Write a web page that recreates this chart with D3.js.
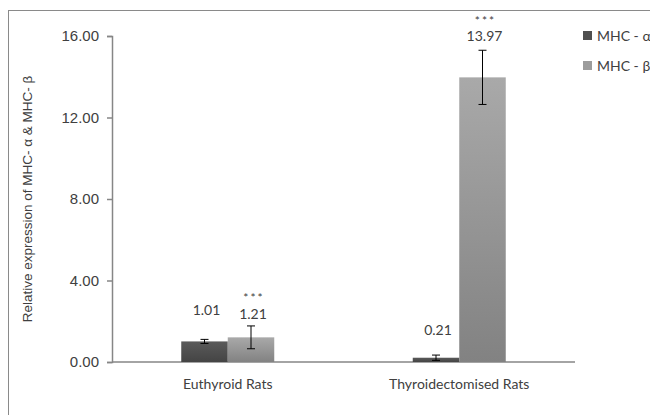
<!DOCTYPE html>
<html>
<head>
<meta charset="utf-8">
<script src="https://cdn.jsdelivr.net/npm/d3@7"></script>
<style>
  body { margin: 0; background: #fff; }
  svg { display: block; }
  .tick text { font-family: "Liberation Sans", Arial, sans-serif; font-size: 15px; fill: #404040; }
</style>
</head>
<body>
<div id="chart"></div>
<script>
// data
const groups = ["Euthyroid Rats", "Thyroidectomised Rats"];
const series = ["MHC - \u03b1", "MHC - \u03b2"];
const alphaValues = [1.01, 0.21];
const betaValues = [1.21, 13.97];
const alphaErrors = [0.10, 0.13];
const betaErrors = [0.56, 1.33];
const alphaStars = ["", ""];
const betaStars = ["***", "***"];
const yTicks = [0, 4, 8, 12, 16];

// how far (px) each value label sits above its bar / error bar, and the stars above the label
const alphaLabelGap = [26, 23];
const betaLabelGap = [7, 9];
const starGap = 16.5;

const W = 650, H = 415;
const margin = {top: 36, right: 75, bottom: 53, left: 112};
const width = W - margin.left - margin.right;
const height = H - margin.top - margin.bottom;
const font = "Lato, 'Open Sans', sans-serif";

const svg = d3.select("#chart").append("svg")
    .attr("width", W)
    .attr("height", H);

// gradients like the office chart fills
const defs = svg.append("defs");
function grad(id, top, bottom) {
    const g = defs.append("linearGradient")
        .attr("id", id)
        .attr("x1", 0).attr("y1", 0).attr("x2", 0).attr("y2", 1);
    g.append("stop").attr("offset", "0%").attr("stop-color", top);
    g.append("stop").attr("offset", "100%").attr("stop-color", bottom);
}
grad("gAlpha", "#5a5a5a", "#444444");
grad("gBeta", "#a9a9a9", "#828282");
const fills = ["url(#gAlpha)", "url(#gBeta)"];
const swatch = ["#4f4f4f", "#9c9c9c"];

// outer frame (runs off the right and bottom edge)
svg.append("rect")
    .attr("x", 8.5).attr("y", 10.5)
    .attr("width", W).attr("height", H)
    .attr("fill", "none")
    .attr("stroke", "#8a8a8a")
    .attr("stroke-width", 1);

const g = svg.append("g")
    .attr("transform", `translate(${margin.left},${margin.top})`);

const x0 = d3.scaleBand().domain(groups).range([0, width]);
const x1 = d3.scaleBand().domain(series).range([0, 93]);
const y = d3.scaleLinear().domain([0, 16]).range([height, 0]);

const yAxis = d3.axisLeft(y)
    .tickValues(yTicks)
    .tickFormat(d3.format(".2f"))
    .tickSize(5)
    .tickPadding(8);

const ya = g.append("g").call(yAxis);
ya.select(".domain").attr("stroke", "#868686").attr("stroke-width", 1.5);
ya.selectAll(".tick line").attr("stroke", "#868686").attr("stroke-width", 1.5);

// x axis baseline
g.append("line")
    .attr("x1", 0).attr("x2", width)
    .attr("y1", y(0)).attr("y2", y(0))
    .attr("stroke", "#868686")
    .attr("stroke-width", 1.5);

g.selectAll(".xlab")
    .data(groups)
    .join("text")
    .attr("class", "xlab")
    .attr("x", d => x0(d) + x0.bandwidth() / 2)
    .attr("y", height + 27)
    .attr("text-anchor", "middle")
    .attr("font-family", font)
    .attr("font-size", 14)
    .attr("fill", "#404040")
    .text(d => d);

// flatten into bar records
const bars = [];
groups.forEach((grp, i) => {
    bars.push({grp, s: series[0], si: 0, v: alphaValues[i], e: alphaErrors[i], star: alphaStars[i], gap: alphaLabelGap[i]});
    bars.push({grp, s: series[1], si: 1, v: betaValues[i], e: betaErrors[i], star: betaStars[i], gap: betaLabelGap[i]});
});
const barX = d => x0(d.grp) + x0.bandwidth() / 2 - 46.5 + x1(d.s);

g.selectAll(".bar")
    .data(bars)
    .join("rect")
    .attr("class", "bar")
    .attr("x", barX)
    .attr("y", d => y(d.v))
    .attr("width", x1.bandwidth())
    .attr("height", d => y(0) - y(d.v))
    .attr("fill", d => fills[d.si]);

// error bars
const eb = g.selectAll(".err")
    .data(bars)
    .join("g")
    .attr("class", "err")
    .attr("stroke", "#000")
    .attr("stroke-width", 1);
const cx = d => barX(d) + x1.bandwidth() / 2;
eb.append("line")
    .attr("x1", cx).attr("x2", cx)
    .attr("y1", d => y(d.v + d.e)).attr("y2", d => y(d.v - d.e));
eb.append("line")
    .attr("x1", d => cx(d) - 4).attr("x2", d => cx(d) + 4)
    .attr("y1", d => y(d.v + d.e)).attr("y2", d => y(d.v + d.e));
eb.append("line")
    .attr("x1", d => cx(d) - 4).attr("x2", d => cx(d) + 4)
    .attr("y1", d => y(d.v - d.e)).attr("y2", d => y(d.v - d.e));

// value labels
const labY = d => (d.si === 0 ? y(d.v) : y(d.v + d.e)) - d.gap;
g.selectAll(".val")
    .data(bars)
    .join("text")
    .attr("class", "val")
    .attr("x", d => cx(d) + 2)
    .attr("y", labY)
    .attr("text-anchor", "middle")
    .attr("font-family", font)
    .attr("font-size", 14)
    .attr("fill", "#404040")
    .text(d => d.v.toFixed(2));

// significance stars
g.selectAll(".star")
    .data(bars.filter(d => d.star))
    .join("text")
    .attr("class", "star")
    .attr("x", d => cx(d) + 3)
    .attr("y", d => labY(d) - starGap)
    .attr("text-anchor", "middle")
    .attr("font-family", font)
    .attr("font-size", 12)
    .attr("letter-spacing", 2)
    .attr("fill", "#404040")
    .text(d => d.star);

// y axis title
svg.append("text")
    .attr("transform", `translate(32,199) rotate(-90)`)
    .attr("text-anchor", "middle")
    .attr("font-family", "'Liberation Sans', Arial, sans-serif")
    .attr("font-size", 13.5)
    .attr("fill", "#404040")
    .text("Relative expression of MHC- \u03b1 & MHC- \u03b2");

// legend
const leg = svg.append("g").attr("transform", "translate(583,31)");
const li = leg.selectAll("g")
    .data(series)
    .join("g")
    .attr("transform", (d, i) => `translate(0,${i * 30})`);
li.append("rect")
    .attr("width", 9).attr("height", 9)
    .attr("fill", (d, i) => swatch[i]);
li.append("text")
    .attr("x", 14).attr("y", 9.5)
    .attr("font-family", font)
    .attr("font-size", 14)
    .attr("fill", "#404040")
    .text(d => d);
</script>
</body>
</html>
